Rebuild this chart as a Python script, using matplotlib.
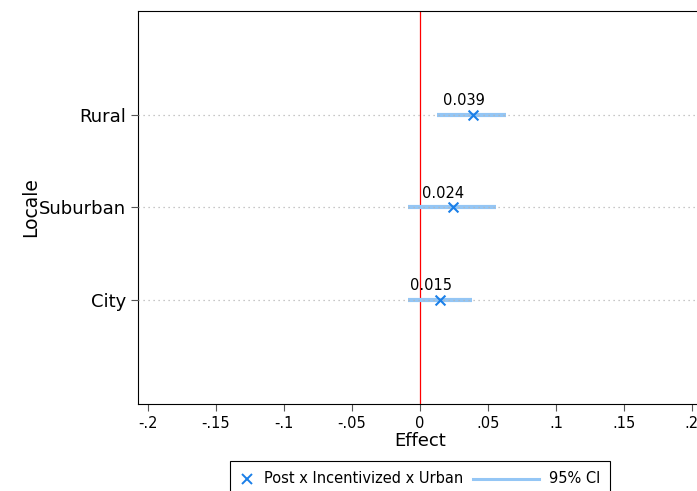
import matplotlib.pyplot as plt
import numpy as np
from matplotlib.lines import Line2D
from matplotlib.offsetbox import (AnchoredOffsetbox, DrawingArea, HPacker,
                                  TextArea)

# Estimates by locale
locales = ["City", "Suburban", "Rural"]
effects = [0.015, 0.024, 0.039]
ci_low = [-0.0091, -0.0091, 0.0125]
ci_high = [0.0380, 0.0561, 0.0635]
xticks = [-0.2, -0.15, -0.1, -0.05, 0, 0.05, 0.1, 0.15, 0.2]
xtick_labels = ["-.2", "-.15", "-.1", "-.05", "0", ".05", ".1", ".15", ".2"]

point_color = "#1a7fe8"
ci_color = "#94c6f5"

fig = plt.figure(figsize=(6.97, 4.91), dpi=100)
ax = fig.add_axes([0.198, 0.177, 0.809, 0.801])

ypos = np.arange(1, len(locales) + 1)

# Dotted guide lines at each category
for y in ypos:
    ax.axhline(y, color="#b5b5b5", lw=0.9, ls=(0, (1, 3)), zorder=3)

ax.axvline(0, color="red", lw=0.9, zorder=1)

ax.hlines(ypos, ci_low, ci_high, color=ci_color, lw=3.0, zorder=2)
ax.scatter(effects, ypos, marker="x", color=point_color, s=50, lw=1.5, zorder=4)

for x, y in zip(effects, ypos):
    ax.annotate(f"{x:.3f}", (x, y), xytext=(-6.5, 5), textcoords="offset points",
                ha="center", va="bottom", fontsize=10.5)

ax.set_xlim(-0.2074, 0.2074)
ax.set_ylim(-0.124, 4.124)
ax.set_xticks(xticks)
ax.set_xticklabels(xtick_labels, fontsize=10.5)
ax.set_yticks(ypos)
ax.set_yticklabels(locales, fontsize=13)
ax.set_xlabel("Effect", fontsize=13, labelpad=1)
ax.set_ylabel("Locale", fontsize=13.5, labelpad=-1)
ax.tick_params(axis="both", length=5, color="#555555")

# Legend: marker entry and CI entry side by side in one frame
mark_box = DrawingArea(10, 10, 0, 0)
mark_box.add_artist(Line2D([5], [5], marker="x", ls="none", color=point_color,
                           markersize=7, markeredgewidth=1.4))
line_box = DrawingArea(48, 10, 0, 0)
line_box.add_artist(Line2D([0, 48], [5, 5], color=ci_color, lw=2.2))
txt_props = dict(fontsize=10.5)
row = HPacker(children=[mark_box,
                        TextArea("Post x Incentivized x Urban", textprops=txt_props),
                        line_box,
                        TextArea("95% CI", textprops=txt_props)],
              align="center", pad=0, sep=7)
legend_box = AnchoredOffsetbox(loc="upper left", child=row, pad=0.72,
                               borderpad=0, frameon=True,
                               bbox_to_anchor=(230 / 697, 1 - 461 / 491),
                               bbox_transform=fig.transFigure)
legend_box.patch.set_edgecolor("black")
legend_box.patch.set_linewidth(0.8)
legend_box.patch.set_boxstyle("square", pad=0)
fig.add_artist(legend_box)

fig.savefig("out.png", dpi=100)
